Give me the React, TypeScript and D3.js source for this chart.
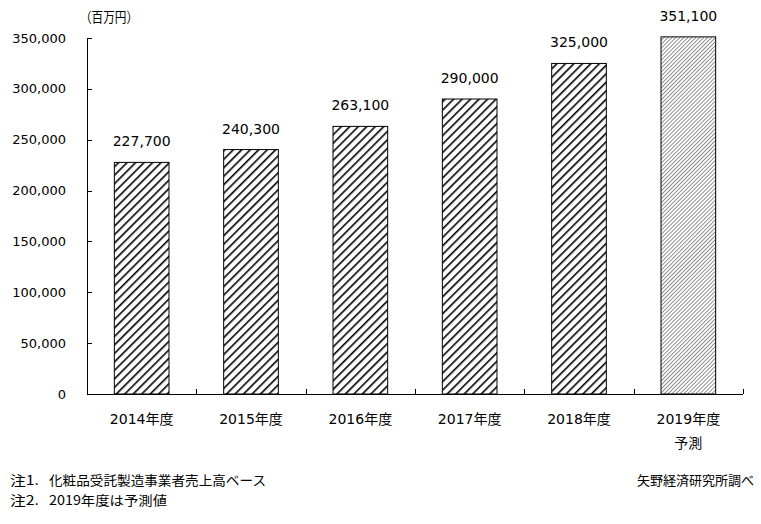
import React from "react";
import * as d3 from "d3";

const categories = ["2014年度", "2015年度", "2016年度", "2017年度", "2018年度", "2019年度"];
const values = [227700, 240300, 263100, 290000, 325000, 351100];
const forecast = [false, false, false, false, false, true];
const yTicks = [0, 50000, 100000, 150000, 200000, 250000, 300000, 350000];

const W = 761, H = 524;
const left = 87, right = 743, top = 38, bottom = 394;
const NUM = "'DejaVu Sans', 'Noto Sans CJK JP', sans-serif";
const JP = "'Noto Sans CJK JP', sans-serif";

export default function App() {
  const x = d3.scaleBand<string>().domain(categories).range([left, right]).paddingInner(0.5).paddingOuter(0.25);
  const y = d3.scaleLinear().domain([0, 350000]).range([bottom, top]);
  const fmt = d3.format(",");
  const step = x.step();
  return (
    <svg width={W} height={H} style={{ position: "absolute", left: 0, top: 0, background: "#fff" }}>
      <defs>
        <pattern id="thick" patternUnits="userSpaceOnUse" width="6" height="6" patternTransform="rotate(45)">
          <rect width="6" height="6" fill="#fff" />
          <line x1="0" y1="0" x2="0" y2="6" stroke="#000" strokeWidth="3.2" />
        </pattern>
        <pattern id="thin" patternUnits="userSpaceOnUse" width="2.8" height="2.8" patternTransform="rotate(45)">
          <rect width="2.8" height="2.8" fill="#fff" />
          <line x1="0" y1="0" x2="0" y2="2.8" stroke="#222" strokeWidth="1" />
        </pattern>
      </defs>
      <rect width={W} height={H} fill="#fff" />
      {/* bars */}
      {categories.map((c, i) => (
        <rect key={c} x={x(c)} y={y(values[i])} width={x.bandwidth()} height={bottom - y(values[i])}
          fill={forecast[i] ? "url(#thin)" : "url(#thick)"} stroke="#000" strokeWidth={1} />
      ))}
      {/* value labels */}
      {categories.map((c, i) => (
        <text key={c} x={x(c)! + x.bandwidth() / 2} y={y(values[i]) - 16} textAnchor="middle"
          fontFamily={NUM} fontSize={14} fill="#000">{fmt(values[i])}</text>
      ))}
      {/* y axis */}
      <line x1={left + 0.5} x2={left + 0.5} y1={top} y2={bottom} stroke="#000" />
      {yTicks.map((t) => (
        <g key={t}>
          <line x1={left} x2={left + 5} y1={Math.round(y(t)) + 0.5} y2={Math.round(y(t)) + 0.5} stroke="#000" />
          <text x={66} y={y(t) + 4.5} textAnchor="end" fontFamily={NUM} fontSize={13} fill="#000">{fmt(t)}</text>
        </g>
      ))}
      {/* x axis */}
      <line x1={left} x2={right} y1={bottom + 0.5} y2={bottom + 0.5} stroke="#000" />
      {categories.map((c, i) => (
        <line key={c} x1={Math.round(left + step * (i + 1)) + 0.5} x2={Math.round(left + step * (i + 1)) + 0.5}
          y1={bottom} y2={bottom - 5} stroke="#000" />
      ))}
      {categories.map((c) => (
        <text key={c} x={x(c)! + x.bandwidth() / 2} y={424} textAnchor="middle" fontFamily={NUM} fontSize={14} fill="#000">{c}</text>
      ))}
      <text x={x("2019年度")! + x.bandwidth() / 2} y={448} textAnchor="middle" fontFamily={JP} fontSize={14} fill="#000">予測</text>
      <text x={80} y={22} fontFamily={JP} fontSize={14} fill="#000" textLength={58} lengthAdjust="spacingAndGlyphs">（百万円）</text>
      {/* notes */}
      <text x={10} y={485} fontFamily={JP} fontSize={13} fill="#000" textLength={29} lengthAdjust="spacingAndGlyphs">注1.</text>
      <text x={49} y={485} fontFamily={JP} fontSize={13} fill="#000" textLength={217} lengthAdjust="spacingAndGlyphs">化粧品受託製造事業者売上高ベース</text>
      <text x={10} y={505} fontFamily={JP} fontSize={13} fill="#000" textLength={29} lengthAdjust="spacingAndGlyphs">注2.</text>
      <text x={49} y={505} fontFamily={JP} fontSize={13} fill="#000" textLength={118} lengthAdjust="spacingAndGlyphs">2019年度は予測値</text>
      <text x={754} y={485} textAnchor="end" fontFamily={JP} fontSize={13} fill="#000">矢野経済研究所調べ</text>
    </svg>
  );
}
